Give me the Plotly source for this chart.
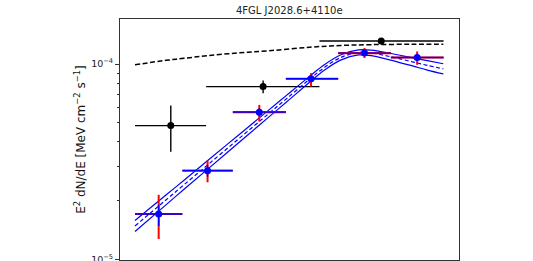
import plotly.graph_objects as go

# ---------------- data (energies in MeV, E^2 dN/dE in MeV cm^-2 s^-1) -------------
# Blue SED points (red = total errors, blue = statistical errors)
blue_e = [1700, 5080, 16200, 51700, 171000, 557000]
blue_emin = [1000, 2890, 8950, 29400, 94900, 309000]
blue_emax = [2890, 8950, 29400, 94900, 309000, 1007000]
blue_f = [1.706e-5, 2.845e-5, 5.67e-5, 8.41e-5, 1.139e-4, 1.081e-4]
red_fhi = [2.14e-5, 3.21e-5, 6.18e-5, 8.99e-5, 1.208e-4, 1.161e-4]
red_flo = [1.27e-5, 2.48e-5, 5.08e-5, 7.67e-5, 1.074e-4, 0.992e-4]
stat_fhi = [1.905e-5, 3.05e-5, 5.95e-5, 8.72e-5, 1.175e-4, 1.125e-4]
stat_flo = [1.48e-5, 2.65e-5, 5.40e-5, 8.10e-5, 1.105e-4, 1.04e-4]

# Black catalogue points
blk_e = [2230, 17650, 249000]
blk_emin = [1000, 4920, 62400]
blk_emax = [4920, 62400, 1007000]
blk_f = [4.84e-5, 7.67e-5, 1.312e-4]
blk_fhi = [6.13e-5, 8.24e-5, 1.335e-4]
blk_flo = [3.56e-5, 7.10e-5, 1.29e-4]

# Black dashed catalogue model
cat_e = [1000, 2000, 3000, 5000, 10000, 20000, 50000, 100000, 200000, 500000, 1000000]
cat_f = [9.92e-5, 1.045e-4, 1.07e-4, 1.105e-4, 1.14e-4, 1.17e-4, 1.22e-4,
         1.245e-4, 1.258e-4, 1.263e-4, 1.263e-4]

# Blue fitted model with its band
fit_e = [1000, 2000, 3000, 5000, 10000, 20000, 30000, 50000, 70000, 100000,
         150000, 200000, 300000, 500000, 700000, 1000000]
fit_f = [1.482e-5, 2.014e-5, 2.41e-5, 3.02e-5, 4.105e-5, 5.575e-5, 6.67e-5, 8.36e-5,
         9.63e-5, 1.08e-4, 1.148e-4, 1.141e-4, 1.093e-4, 1.027e-4, 9.85e-5, 9.46e-5]
fit_up = [1.581e-5, 2.133e-5, 2.541e-5, 3.177e-5, 4.298e-5, 5.811e-5, 6.936e-5, 8.653e-5,
          9.946e-5, 1.1128e-4, 1.1829e-4, 1.1784e-4, 1.1366e-4, 1.0779e-4, 1.0409e-4, 1.0044e-4]
fit_lo = [1.389e-5, 1.901e-5, 2.286e-5, 2.871e-5, 3.920e-5, 5.349e-5, 6.414e-5, 8.077e-5,
          9.324e-5, 1.0481e-4, 1.1141e-4, 1.1048e-4, 1.0511e-4, 9.785e-5, 9.321e-5, 8.910e-5]

title_text = "4FGL J2028.6+4110e"
ylabel = "E<sup>2</sup> dN/dE [MeV cm<sup>−2</sup> s<sup>−1</sup>]"
ytick_vals = [1e-5, 1e-4]
ytick_text = ["10<sup>−5</sup>", "10<sup>−4</sup>"]
yminor_vals = [2e-5, 3e-5, 4e-5, 5e-5, 6e-5, 7e-5, 8e-5, 9e-5]
xminor_vals = [m * 10 ** k for k in range(2, 7) for m in range(2, 10)]

# ---------------------------------------------------------------------------------
fig = go.Figure()

# black dashed catalogue model
fig.add_trace(go.Scatter(x=cat_e, y=cat_f, mode="lines", line_shape="spline",
                         line=dict(color="black", width=1.5, dash="5px,2.5px"),
                         showlegend=False, hoverinfo="skip"))

# black points
fig.add_trace(go.Scatter(
    x=blk_e, y=blk_f, mode="markers",
    marker=dict(color="black", size=7),
    error_x=dict(type="data", symmetric=False,
                 array=[b - a for a, b in zip(blk_e, blk_emax)],
                 arrayminus=[a - b for a, b in zip(blk_e, blk_emin)],
                 color="black", thickness=1.4, width=0),
    error_y=dict(type="data", symmetric=False,
                 array=[b - a for a, b in zip(blk_f, blk_fhi)],
                 arrayminus=[a - b for a, b in zip(blk_f, blk_flo)],
                 color="black", thickness=1.4, width=0),
    showlegend=False))

# blue fitted band
for arr in (fit_up, fit_lo):
    fig.add_trace(go.Scatter(x=fit_e, y=arr, mode="lines", line_shape="spline",
                             line=dict(color="blue", width=1.2),
                             showlegend=False, hoverinfo="skip"))
fig.add_trace(go.Scatter(x=fit_e, y=fit_f, mode="lines", line_shape="spline",
                         line=dict(color="blue", width=1.2, dash="4px,2.5px"),
                         showlegend=False, hoverinfo="skip"))

# red total error bars
fig.add_trace(go.Scatter(
    x=blue_e, y=blue_f, mode="markers",
    marker=dict(color="red", size=1, opacity=0),
    error_x=dict(type="data", symmetric=False,
                 array=[b - a for a, b in zip(blue_e, blue_emax)],
                 arrayminus=[a - b for a, b in zip(blue_e, blue_emin)],
                 color="red", thickness=2.2, width=0),
    error_y=dict(type="data", symmetric=False,
                 array=[b - a for a, b in zip(blue_f, red_fhi)],
                 arrayminus=[a - b for a, b in zip(blue_f, red_flo)],
                 color="red", thickness=2, width=0),
    showlegend=False))

# blue statistical error bars and points
fig.add_trace(go.Scatter(
    x=blue_e, y=blue_f, mode="markers",
    marker=dict(color="blue", size=7),
    error_x=dict(type="data", symmetric=False,
                 array=[b - a for a, b in zip(blue_e, blue_emax)],
                 arrayminus=[a - b for a, b in zip(blue_e, blue_emin)],
                 color="blue", thickness=1.3, width=0),
    error_y=dict(type="data", symmetric=False,
                 array=[b - a for a, b in zip(blue_f, stat_fhi)],
                 arrayminus=[a - b for a, b in zip(blue_f, stat_flo)],
                 color="blue", thickness=1.5, width=0),
    showlegend=False))

axcol = "#333333"
fig.update_xaxes(type="log", range=[2.854, 6.153], showgrid=False, zeroline=False,
                 showline=True, mirror=True, linecolor=axcol, linewidth=1,
                 ticks="outside", ticklen=4, tickcolor=axcol, showticklabels=False,
                 tickvals=[1e3, 1e4, 1e5, 1e6], automargin=False,
                 minor=dict(tickvals=xminor_vals, ticks="outside", ticklen=2,
                            tickcolor=axcol))
fig.update_yaxes(type="log", range=[-5.0036, -3.769], showgrid=False, zeroline=False,
                 showline=True, mirror=True, linecolor=axcol, linewidth=1,
                 ticks="outside", ticklen=4, tickcolor=axcol, automargin=False,
                 tickvals=ytick_vals, ticktext=ytick_text, ticklabeloverflow="allow",
                 tickfont=dict(family="DejaVu Sans", size=9.5, color="#222222"),
                 minor=dict(tickvals=yminor_vals, ticks="outside", ticklen=2,
                            tickcolor=axcol))

fig.add_annotation(text=ylabel, xref="paper", yref="paper", x=-0.12, y=0.5,
                   xanchor="center", yanchor="middle", textangle=-90, showarrow=False,
                   font=dict(family="DejaVu Sans", size=12, color="#111111"))
fig.add_annotation(text=title_text, xref="paper", yref="paper", x=0.5, y=1.0,
                   xanchor="center", yanchor="bottom", yshift=1, showarrow=False,
                   font=dict(family="DejaVu Sans", size=10, color="#222222"))

fig.update_layout(width=533, height=261, margin=dict(l=120, r=74, t=19, b=1, autoexpand=False),
                  paper_bgcolor="white", plot_bgcolor="white")

fig.write_html("out.html")
